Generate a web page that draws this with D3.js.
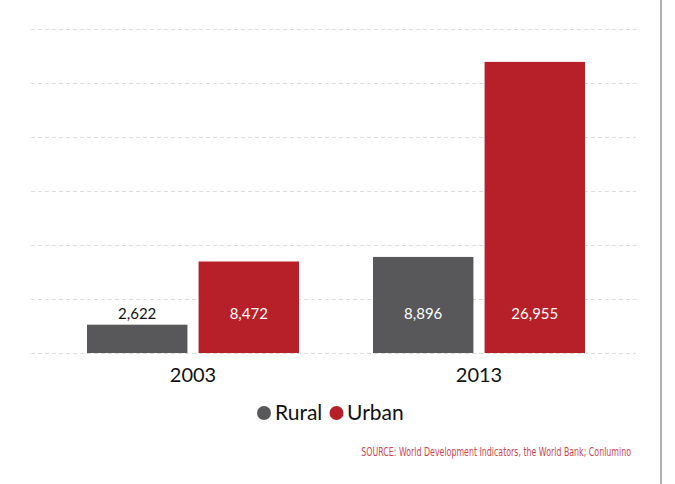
<!DOCTYPE html>
<html>
<head>
<meta charset="utf-8">
<script src="https://cdn.jsdelivr.net/npm/d3@7"></script>
<style>
  html, body { margin: 0; padding: 0; background: #fff; }
  svg { display: block; }
</style>
</head>
<body>
<svg id="chart" width="675" height="484"></svg>
<script>
// Average income by area (values shown on the bars)
const years = ["2003", "2013"];
const seriesNames = ["Rural", "Urban"];
const ruralValues = [2622, 8896];
const urbanValues = [8472, 26955];
const gridTicks = [0, 5000, 10000, 15000, 20000, 25000, 30000];
const seriesColors = ["#58585a", "#b72028"];
const sourceText = "SOURCE: World Development Indicators, the World Bank; Conlumino";

const svg = d3.select("#chart");
const W = 675, H = 484;

const plot = { left: 31, right: 636, top: 29, bottom: 353 };

const x0 = d3.scaleBand()
  .domain(years)
  .range([50, 622]);

const x1 = d3.scaleBand()
  .domain(seriesNames)
  .range([0, 212])
  .paddingInner(0.1);

const y = d3.scaleLinear()
  .domain([0, 30000])
  .range([plot.bottom, plot.top]);

// dashed horizontal gridlines
svg.append("g")
  .selectAll("line")
  .data(gridTicks)
  .join("line")
  .attr("x1", plot.left)
  .attr("x2", plot.right)
  .attr("y1", d => Math.round(y(d)) + 0.5)
  .attr("y2", d => Math.round(y(d)) + 0.5)
  .attr("stroke", "#dcdcdc")
  .attr("stroke-width", 1)
  .attr("stroke-dasharray", "4,3");

// right-hand divider
svg.append("line")
  .attr("x1", 661).attr("x2", 661)
  .attr("y1", 0).attr("y2", H)
  .attr("stroke", "#9a9a9a")
  .attr("stroke-width", 1.6);

const rows = years.map((yr, i) => ({
  year: yr,
  values: [ruralValues[i], urbanValues[i]]
}));

const groups = svg.append("g")
  .selectAll("g")
  .data(rows)
  .join("g")
  .attr("transform", d => `translate(${x0(d.year) + (x0.bandwidth() - 212) / 2},0)`);

groups.selectAll("rect")
  .data(d => d.values.map((v, j) => ({ name: seriesNames[j], value: v, j })))
  .join("rect")
  .attr("x", d => x1(d.name))
  .attr("width", x1.bandwidth())
  .attr("y", d => y(d.value))
  .attr("height", d => y(0) - y(d.value))
  .attr("fill", d => seriesColors[d.j]);

const fmt = d3.format(",");
const inside = d => (y(0) - y(d.value)) > 45;
groups.selectAll("text.val")
  .data(d => d.values.map((v, j) => ({ name: seriesNames[j], value: v, j })))
  .join("text")
  .attr("class", "val")
  .attr("x", d => x1(d.name) + x1.bandwidth() / 2)
  .attr("y", d => inside(d) ? y(0) - 34 : y(d.value) - 6)
  .attr("text-anchor", "middle")
  .attr("font-family", "Lato, 'Open Sans', sans-serif")
  .attr("font-size", 15)
  .attr("fill", d => inside(d) ? "#ffffff" : "#111111")
  .text(d => fmt(d.value));

// year axis labels
svg.append("g")
  .selectAll("text")
  .data(years)
  .join("text")
  .attr("x", d => x0(d) + x0.bandwidth() / 2)
  .attr("y", 382)
  .attr("text-anchor", "middle")
  .attr("font-family", "Lato, 'Open Sans', sans-serif")
  .attr("font-size", 20)
  .attr("fill", "#111")
  .text(d => d);

// legend
const legend = svg.append("g");
const legendItems = [
  { name: seriesNames[0], color: seriesColors[0], cx: 264, tx: 275 },
  { name: seriesNames[1], color: seriesColors[1], cx: 336.5, tx: 347 }
];
legend.selectAll("circle")
  .data(legendItems)
  .join("circle")
  .attr("cx", d => d.cx)
  .attr("cy", 413)
  .attr("r", 7)
  .attr("fill", d => d.color);
legend.selectAll("text")
  .data(legendItems)
  .join("text")
  .attr("x", d => d.tx)
  .attr("y", 420)
  .attr("font-family", "Lato, 'Open Sans', sans-serif")
  .attr("font-size", 21)
  .attr("fill", "#111")
  .text(d => d.name);

// source note, right-aligned and horizontally condensed
svg.append("text")
  .attr("transform", "translate(631,456) scale(0.73,1)")
  .attr("text-anchor", "end")
  .attr("font-family", "'DejaVu Sans Condensed', 'DejaVu Sans', sans-serif")
  .attr("font-size", 12)
  .attr("fill", "#d0464f")
  .text(sourceText);
</script>
</body>
</html>
